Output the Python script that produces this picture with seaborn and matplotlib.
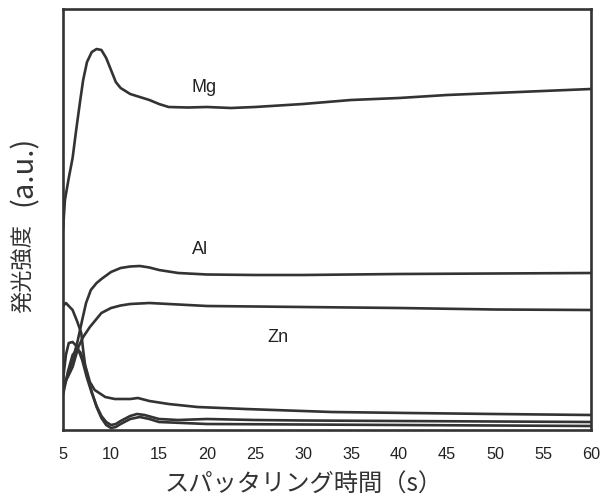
import numpy as np
import pandas as pd
import matplotlib
matplotlib.use("Agg")
import matplotlib.pyplot as plt
import seaborn as sns

# ---- data (intensity in arbitrary units) ----
mg_x = [5.0, 5.2, 5.6, 6.0, 6.4, 6.8, 7.1, 7.5, 8.0, 8.5, 9.0, 9.5, 10.0, 10.5, 11, 12, 13, 14, 15, 16,
        18, 20, 22.5, 25, 30, 35, 40, 45, 50, 55, 60]
mg_y = [200, 230, 252, 272, 302, 330, 350, 368, 378, 381, 380, 372, 360, 348, 342, 336, 333, 330, 326, 323,
        322.5, 323, 322, 323, 326, 330, 332, 335, 337, 339, 341]

al_x = [5.0, 5.5, 6.0, 6.5, 7.0, 7.4, 7.9, 8.5, 9.0, 10, 11, 12, 13, 14, 15, 17, 20, 25, 30, 40, 50, 60]
al_y = [40, 55, 70, 88, 110, 127, 140, 147, 151, 158, 162, 163.5, 164, 162.5, 160, 157, 155.5, 155, 155,
        156, 156.5, 157]

zn_x = [5.0, 5.5, 6.0, 6.6, 7.1, 7.8, 9.0, 10, 11, 12, 13, 14, 16, 20, 30, 40, 50, 60]
zn_y = [45, 53, 63, 83, 93, 103, 117, 122, 124.5, 126, 126.5, 127, 126, 124, 123, 122, 120.5, 120]

d1_x = [5.0, 5.3, 6.0, 6.5, 6.9, 7.1, 7.3, 7.8, 8.3, 9.4, 10.4, 12.0, 12.8, 14, 16, 19, 24, 33, 41, 50, 60]
d1_y = [124, 127, 120, 108, 97, 80, 65, 48, 40, 33, 31, 31, 32, 29, 26, 23, 21, 18, 17, 16, 15]

d2_x = [5.0, 5.3, 5.6, 6.0, 6.5, 7.0, 7.5, 8.0, 8.5, 9.0, 9.5, 10.0, 10.5, 11, 12, 12.7, 13.5, 15, 17,
        20, 25, 30, 40, 50, 60]
d2_y = [50, 75, 87, 88, 83, 70, 52, 37, 24, 14, 8, 5, 6, 9, 14, 16, 15, 11, 10, 11, 10, 9.5, 9, 8.5, 8]

d3_x = [5.0, 5.5, 6.0, 6.4, 6.8, 7.2, 7.6, 8.0, 8.5, 9.0, 9.5, 10.0, 10.5, 11, 12, 13, 14, 15, 20, 30,
        40, 50, 60]
d3_y = [35, 58, 75, 80, 78, 68, 52, 38, 23, 12, 5, 2, 3, 6, 11, 13, 11, 8, 6, 5.5, 5, 4.5, 4]

x_ticks = [5, 10, 15, 20, 25, 30, 35, 40, 45, 50, 55, 60]
labels = [("Mg", 19.7, 342), ("Al", 19.3, 180), ("Zn", 27.4, 92)]
x_label = "スパッタリング時間（s）"
y_label_main = "発光強度"
y_label_unit = "(a.u.)"

# ---- styling ----
sns.set_style("white")
plt.rcParams['font.family'] = ['Liberation Sans', 'Noto Sans CJK JP']
line_color = "#333333"

fig = plt.figure(figsize=(6.02, 4.99), dpi=100)
ax = fig.add_axes([63 / 602, 69 / 499, 528 / 602, 421 / 499])

for xs, ys in [(mg_x, mg_y), (al_x, al_y), (zn_x, zn_y), (d1_x, d1_y), (d2_x, d2_y), (d3_x, d3_y)]:
    df = pd.DataFrame({"t": xs, "v": ys})
    sns.lineplot(data=df, x="t", y="v", ax=ax, color=line_color, lw=1.9,
                 estimator=None, sort=False, solid_joinstyle="round")

for txt, lx, ly in labels:
    ax.text(lx, ly, txt, fontsize=13, color="#222222", ha="center", va="center",
            family=['Liberation Sans', 'DejaVu Sans'])

ax.set_xlim(5, 60)
ax.set_ylim(0, 421)
ax.set_xticks(x_ticks)
ax.set_xticklabels([str(t) for t in x_ticks], fontsize=11.7, color="#222222")
ax.set_yticks([])
ax.tick_params(axis="x", length=0, pad=12)

for s in ax.spines.values():
    s.set_visible(True)
    s.set_color("#333333")
    s.set_linewidth(1.9)

jp = ['Noto Sans CJK JP', 'DejaVu Sans']
ax.set_xlabel(x_label, fontsize=17.5, color="#333333", family=jp)
ax.xaxis.set_label_coords(0.455, -0.099)
ax.xaxis.label.set_va("top")
ax.set_ylabel("")

# y label: kanji part and unit part (unit drawn larger, as in the reference)
ax.text(-0.075, 0.384, y_label_main, rotation=90, transform=ax.transAxes, ha="center", va="center",
        fontsize=16, color="#333333", family=jp)
ax.text(-0.075, 0.615, y_label_unit, rotation=90, transform=ax.transAxes, ha="center", va="center",
        fontsize=21, color="#333333", family=jp)

fig.savefig("out.png", dpi=100, facecolor="white")
